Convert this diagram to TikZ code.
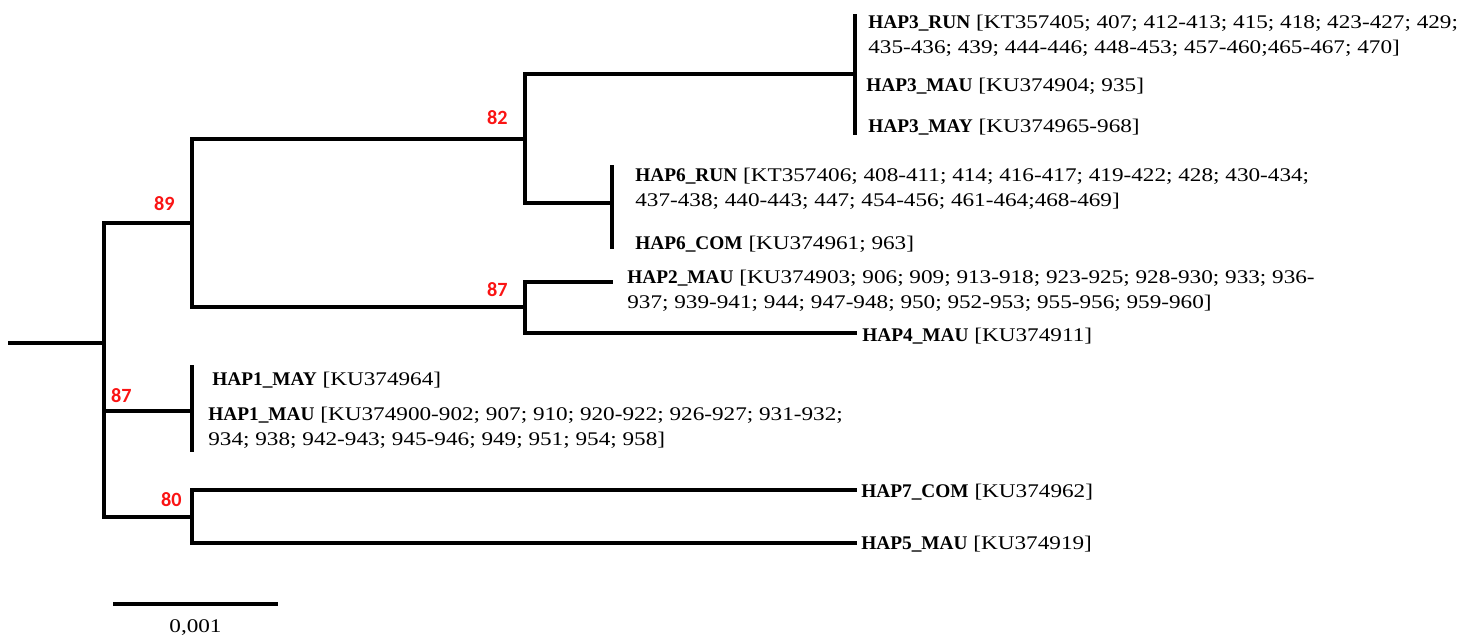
\documentclass[tikz,border=0pt]{standalone}
\usepackage{fontspec}
\setmainfont{Liberation Serif}
\newfontfamily\accfont{Liberation Serif}[FakeStretch=1.2]
\newfontfamily\bootfont{Carlito}
\usetikzlibrary{positioning}
\definecolor{bootred}{RGB}{250,20,20}

\tikzset{
  branch/.style={line width=2.2pt},
  leaf/.style={anchor=base west, inner sep=0pt, align=left,
    font=\accfont\fontsize{11}{13.8}\selectfont},
  boot/.style={inner sep=0pt, text=bootred,
    font=\bootfont\bfseries\fontsize{11.5}{13}\selectfont},
}
\newcommand{\hap}[1]{{\rmfamily\bfseries #1}\ }

\begin{document}
\begin{tikzpicture}[x=0.02cm,y=-0.02cm]
  \useasboundingbox (0,0) rectangle (1475,636);

  \coordinate (r0) at (8,343);
  \coordinate (n0) at (104,343);
  \coordinate (n89) at (192,223);
  \coordinate (n82) at (525,139);
  \coordinate (n87a) at (525,307);
  \coordinate (g3) at (855,74);
  \coordinate (g6) at (612,203);
  \coordinate (g1) at (192,411);
  \coordinate (n80) at (192,517);
  \coordinate (l2) at (613,282);
  \coordinate (l4) at (857,333);
  \coordinate (l7) at (857,490);
  \coordinate (l5) at (857,543);

  \draw[branch] (r0) -- (n0);
  \draw[branch] (n0) |- (n89) (n0) |- (g1) (n0) |- (n80);
  \draw[branch] (n89) |- (n82) (n89) |- (n87a);
  \draw[branch] (n82) |- (g3) (n82) |- (g6);
  \draw[branch] (n87a) |- (l2) (n87a) |- (l4);
  \draw[branch] (n80) |- (l7) (n80) |- (l5);
  \draw[branch] (g3) ++(0,-60) -- ++(0,121);
  \draw[branch] (g6) ++(0,-38) -- ++(0,84);
  \draw[branch] (g1) ++(0,-46) -- ++(0,87);

  \node[boot, above left=0.24cm and 0.34cm of n89] (b89) {89};
  \node[boot, above left=0.28cm and 0.34cm of n82] (b82) {82};
  \node[boot, above left=0.2cm and 0.34cm of n87a] (b87a) {87};
  \node[boot, above left=0.16cm and 1.2cm of g1] (b87b) {87};
  \node[boot, above left=0.2cm and 0.2cm of n80] (b80) {80};

  \node[leaf] (hap3run) at (868,53) {\hap{HAP3\_RUN}[KT357405; 407; 412-413; 415; 418; 423-427; 429;\\435-436; 439; 444-446; 448-453; 457-460;465-467; 470]};
  \node[leaf] (hap3mau) at (866,91) {\hap{HAP3\_MAU}[KU374904; 935]};
  \node[leaf] (hap3may) at (868,132) {\hap{HAP3\_MAY}[KU374965-968]};
  \node[leaf] (hap6run) at (635,206) {\hap{HAP6\_RUN}[KT357406; 408-411; 414; 416-417; 419-422; 428; 430-434;\\437-438; 440-443; 447; 454-456; 461-464;468-469]};
  \node[leaf] (hap6com) at (635,249) {\hap{HAP6\_COM}[KU374961; 963]};
  \node[leaf] (hap2mau) at (627,308) {\hap{HAP2\_MAU}[KU374903; 906; 909; 913-918; 923-925; 928-930; 933; 936-\\937; 939-941; 944; 947-948; 950; 952-953; 955-956; 959-960]};
  \node[leaf] (hap4mau) at (862,341) {\hap{HAP4\_MAU}[KU374911]};
  \node[leaf] (hap1may) at (212,385) {\hap{HAP1\_MAY}[KU374964]};
  \node[leaf] (hap1mau) at (208,445) {\hap{HAP1\_MAU}[KU374900-902; 907; 910; 920-922; 926-927; 931-932;\\934; 938; 942-943; 945-946; 949; 951; 954; 958]};
  \node[leaf] (hap7com) at (861,497) {\hap{HAP7\_COM}[KU374962]};
  \node[leaf] (hap5mau) at (861,549) {\hap{HAP5\_MAU}[KU374919]};

  \coordinate (s0) at (113,604);
  \coordinate (s1) at (278,604);
  \draw[branch] (s0) -- (s1) node[midway, below=0.28cm, inner sep=0pt,
    font=\accfont\fontsize{11}{13}\selectfont] (scale) {0,001};
\end{tikzpicture}
\end{document}
